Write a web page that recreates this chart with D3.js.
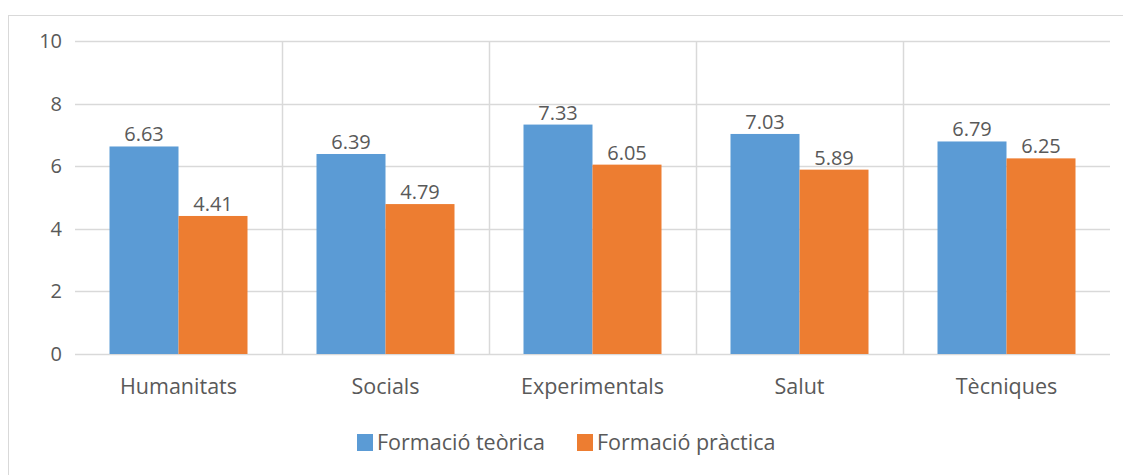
<!DOCTYPE html>
<html>
<head>
<meta charset="utf-8">
<script src="https://cdn.jsdelivr.net/npm/d3@7"></script>
<style>
  body { margin: 0; background: #fff; }
  text { font-family: "Open Sans", sans-serif; fill: #595959; }
</style>
</head>
<body>
<div id="chart"></div>
<script>
var categories = ["Humanitats", "Socials", "Experimentals", "Salut", "Tècniques"];
var seriesNames = ["Formació teòrica", "Formació pràctica"];
var teorica = [6.63, 6.39, 7.33, 7.03, 6.79];
var practica = [4.41, 4.79, 6.05, 5.89, 6.25];
var yTicks = [0, 2, 4, 6, 8, 10];
var colors = ["#5b9bd5", "#ed7d31"];

var width = 1123, height = 475;
var plotLeft = 75, plotRight = 1110, plotTop = 41, plotBottom = 354;
var numSize = "20px", textSize = "21.5px";

var svg = d3.select("#chart").append("svg")
  .attr("width", width)
  .attr("height", height);

// chart frame
svg.append("rect")
  .attr("x", 8.5).attr("y", 15.5)
  .attr("width", width).attr("height", height)
  .attr("fill", "none").attr("stroke", "#d9d9d9");

var x0 = d3.scaleBand().domain(categories).range([plotLeft, plotRight]);
var x1 = d3.scaleBand().domain(seriesNames)
  .range([0, x0.bandwidth()]).paddingOuter(0.5).paddingInner(0);
var y = d3.scaleLinear().domain([0, 10]).range([plotBottom, plotTop]);

// horizontal gridlines
svg.selectAll(".hgrid").data(yTicks).enter().append("line")
  .attr("x1", plotLeft).attr("x2", plotRight)
  .attr("y1", function(d) { return Math.round(y(d)) + 0.5; })
  .attr("y2", function(d) { return Math.round(y(d)) + 0.5; })
  .attr("stroke", "#d9d9d9").attr("stroke-width", 1.5);

// vertical separators between categories
svg.selectAll(".vgrid").data(categories.slice(1)).enter().append("line")
  .attr("x1", function(d) { return Math.round(x0(d)) + 0.5; })
  .attr("x2", function(d) { return Math.round(x0(d)) + 0.5; })
  .attr("y1", plotTop).attr("y2", plotBottom)
  .attr("stroke", "#d9d9d9").attr("stroke-width", 1.5);

// y tick labels
svg.selectAll(".ylab").data(yTicks).enter().append("text")
  .attr("x", 62).attr("y", function(d) { return y(d); })
  .attr("dy", "0.35em").attr("text-anchor", "end")
  .style("font-size", numSize)
  .text(function(d) { return d; });

var rows = [];
categories.forEach(function(c, i) {
  rows.push({ cat: c, s: seriesNames[0], v: teorica[i], k: 0 });
  rows.push({ cat: c, s: seriesNames[1], v: practica[i], k: 1 });
});

svg.selectAll(".bar").data(rows).enter().append("rect")
  .attr("x", function(d) { return x0(d.cat) + x1(d.s); })
  .attr("y", function(d) { return y(d.v); })
  .attr("width", x1.bandwidth())
  .attr("height", function(d) { return y(0) - y(d.v); })
  .attr("fill", function(d) { return colors[d.k]; });

svg.selectAll(".val").data(rows).enter().append("text")
  .attr("x", function(d) { return x0(d.cat) + x1(d.s) + x1.bandwidth() / 2; })
  .attr("y", function(d) { return y(d.v) - 5; })
  .attr("text-anchor", "middle")
  .style("font-size", numSize)
  .text(function(d) { return d.v.toFixed(2); });

// category labels
svg.selectAll(".cat").data(categories).enter().append("text")
  .attr("x", function(d) { return x0(d) + x0.bandwidth() / 2; })
  .attr("y", 394)
  .attr("text-anchor", "middle")
  .style("font-size", textSize)
  .text(function(d) { return d; });

// legend
var legend = svg.append("g");
var lx = [357, 577];
seriesNames.forEach(function(s, i) {
  legend.append("rect")
    .attr("x", lx[i]).attr("y", 434)
    .attr("width", 16).attr("height", 17)
    .attr("fill", colors[i]);
  legend.append("text")
    .attr("x", lx[i] + 20).attr("y", 442)
    .attr("dy", "0.35em")
    .style("font-size", textSize)
    .text(s);
});
</script>
</body>
</html>
